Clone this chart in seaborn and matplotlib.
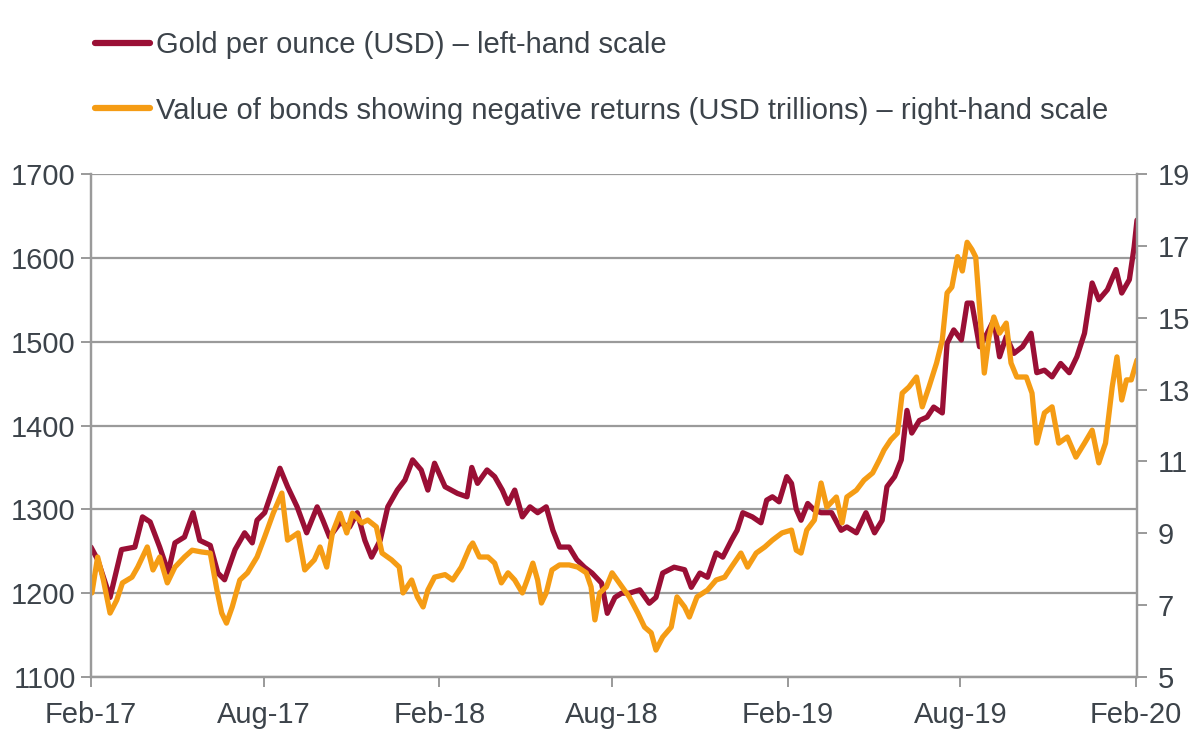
import pandas as pd
import seaborn as sns
import matplotlib
matplotlib.use("Agg")
import matplotlib.pyplot as plt
import matplotlib.dates as mdates
from matplotlib.lines import Line2D

start = pd.Timestamp("2017-02-01")

# gold per ounce (USD), day offsets from start
gold_day = [0, 7, 20, 32, 46, 54, 62, 72, 81, 88, 98, 107, 114, 125, 133, 140, 151, 161, 169, 174,
            182, 198, 206, 216, 226, 237, 243, 250, 261, 271, 279, 287, 294, 303, 311, 321, 329, 337,
            346, 353, 360, 371, 384, 394, 399, 405, 415, 423, 431, 437, 444, 452, 460, 468, 477, 484,
            491, 501, 509, 517, 525, 535, 541, 549, 556, 564, 575, 585, 592, 599, 611, 622, 629, 638,
            646, 655, 662, 671, 677, 683, 693, 702, 708, 714, 721, 729, 734, 739, 744, 751, 758, 765,
            776, 786, 792, 802, 812, 821, 829, 834, 842, 849, 855, 860, 868, 876, 883, 892, 897, 904,
            912, 918, 923, 931, 939, 946, 952, 959, 967, 976, 985, 991, 999, 1007, 1016, 1025, 1033,
            1041, 1049, 1056, 1065, 1074, 1080, 1088, 1093, 1096]
gold = [1255, 1240, 1195, 1252, 1255, 1291, 1285, 1255, 1225, 1260, 1267, 1296, 1263, 1257, 1224, 1216,
        1252, 1272, 1260, 1287, 1296, 1349, 1327, 1303, 1272, 1303, 1287, 1267, 1284, 1279, 1296, 1263,
        1243, 1263, 1303, 1323, 1335, 1359, 1347, 1323, 1355, 1327, 1319, 1315, 1350, 1331, 1347, 1339,
        1323, 1307, 1323, 1291, 1303, 1296, 1303, 1275, 1255, 1255, 1240, 1231, 1224, 1212, 1176, 1195,
        1200, 1200, 1204, 1188, 1195, 1224, 1231, 1228, 1207, 1224, 1219, 1248, 1243, 1263, 1275, 1296,
        1291, 1284, 1311, 1315, 1309, 1339, 1331, 1300, 1287, 1307, 1299, 1296, 1296, 1275, 1279, 1272,
        1296, 1272, 1287, 1327, 1339, 1359, 1418, 1391, 1406, 1410, 1422, 1415, 1498, 1514, 1502, 1546,
        1546, 1494, 1510, 1526, 1482, 1506, 1486, 1494, 1510, 1463, 1466, 1458, 1474, 1463, 1482, 1510,
        1570, 1550, 1562, 1586, 1558, 1574, 1613, 1645]

# value of bonds with negative returns (USD trillions), day offsets from start
bond_day = [1, 7, 13, 20, 27, 33, 43, 49, 59, 65, 72, 80, 88, 98, 106, 116, 125, 132, 137, 142, 148,
            156, 164, 174, 182, 191, 200, 206, 217, 224, 234, 240, 247, 253, 261, 268, 274, 284, 290,
            299, 305, 315, 323, 327, 336, 342, 348, 353, 360, 371, 379, 388, 397, 400, 407, 416, 423,
            430, 437, 444, 452, 457, 463, 468, 472, 477, 483, 491, 501, 510, 519, 524, 528, 533, 540,
            546, 554, 564, 573, 580, 587, 592, 599, 608, 614, 622, 627, 635, 646, 655, 664, 671, 681,
            688, 697, 706, 714, 724, 734, 739, 744, 750, 758, 765, 771, 781, 787, 792, 802, 810, 819,
            826, 831, 838, 845, 850, 857, 865, 871, 878, 886, 892, 897, 902, 908, 913, 918, 923, 927,
            931, 936, 941, 946, 952, 959, 964, 970, 980, 986, 991, 999, 1007, 1014, 1023, 1032, 1041,
            1049, 1056, 1063, 1070, 1075, 1080, 1085, 1090, 1096]
bonds = [7.34, 8.34, 7.70, 6.78, 7.14, 7.62, 7.78, 8.06, 8.62, 7.98, 8.34, 7.62, 8.06, 8.34, 8.53, 8.48,
         8.45, 7.42, 6.78, 6.50, 6.95, 7.70, 7.90, 8.34, 8.90, 9.56, 10.12, 8.81, 9.01, 7.98, 8.26, 8.62,
         8.06, 9.01, 9.56, 9.01, 9.56, 9.29, 9.37, 9.18, 8.45, 8.26, 8.06, 7.34, 7.70, 7.23, 6.95, 7.42,
         7.78, 7.85, 7.70, 8.06, 8.62, 8.73, 8.34, 8.34, 8.17, 7.62, 7.90, 7.70, 7.34, 7.70, 8.17, 7.70,
         7.06, 7.34, 7.98, 8.12, 8.12, 8.06, 7.90, 7.51, 6.59, 7.34, 7.51, 7.90, 7.60, 7.23, 6.78, 6.39,
         6.23, 5.75, 6.11, 6.39, 7.23, 6.95, 6.67, 7.23, 7.42, 7.70, 7.78, 8.06, 8.45, 8.06, 8.45, 8.62,
         8.81, 9.01, 9.09, 8.53, 8.45, 9.09, 9.37, 10.40, 9.73, 10.01, 9.29, 10.01, 10.20, 10.48, 10.68,
         11.04, 11.32, 11.60, 11.79, 12.90, 13.07, 13.35, 12.52, 13.07, 13.74, 14.38, 15.69, 15.85, 16.70,
         16.30, 17.10, 16.90, 16.69, 15.30, 13.46, 14.46, 15.02, 14.57, 14.85, 13.74, 13.35, 13.35, 12.90,
         11.51, 12.35, 12.52, 11.51, 11.68, 11.12, 11.51, 11.87, 10.96, 11.51, 13.07, 13.91, 12.71, 13.27,
         13.27, 13.82]

gold_label = "Gold per ounce (USD) \u2013 left-hand scale"
bond_label = "Value of bonds showing negative returns (USD trillions) \u2013 right-hand scale"
gold_color = "#9a0f35"
bond_color = "#f59c14"
text_color = "#3c434a"
grey = "#9a9a9a"

gold_df = pd.DataFrame({"date": start + pd.to_timedelta(gold_day, unit="D"), "value": gold})
bond_df = pd.DataFrame({"date": start + pd.to_timedelta(bond_day, unit="D"), "value": bonds})

sns.set_style("white")
plt.rcParams["font.family"] = ["Liberation Sans", "DejaVu Sans"]

fig = plt.figure(figsize=(12, 7.32), dpi=100)
ax = fig.add_axes([0.0758, 0.0751, 0.8717, 0.6872])
ax2 = ax.twinx()

sns.lineplot(data=gold_df, x="date", y="value", ax=ax, color=gold_color, lw=3.8)
sns.lineplot(data=bond_df, x="date", y="value", ax=ax2, color=bond_color, lw=3.8)

ax.set_xlim(start, start + pd.Timedelta(days=1096))
ax.set_ylim(1100, 1700)
ax.set_yticks(range(1100, 1701, 100))
ax2.set_ylim(5, 19)
ax2.set_yticks(range(5, 20, 2))

ax.xaxis.set_major_locator(mdates.MonthLocator(bymonth=[2, 8]))
ax.xaxis.set_major_formatter(mdates.DateFormatter("%b-%y"))

ax.grid(axis="y", color=grey, lw=1.6)
ax.set_axisbelow(True)
ax2.grid(False)
for a in (ax, ax2):
    a.set_xlabel("")
    a.set_ylabel("")
    a.spines["top"].set_visible(False)
    for s in ("left", "right", "bottom"):
        a.spines[s].set_color(grey)
        a.spines[s].set_linewidth(1.6)
ax.tick_params(axis="both", colors=grey, labelcolor=text_color, labelsize=21,
               length=7, width=1.4, direction="out")
ax.tick_params(axis="y", left=True, pad=4)
ax.tick_params(axis="x", bottom=True, pad=10)
ax2.tick_params(axis="y", right=True, colors=grey, labelcolor=text_color, labelsize=21,
                length=7, width=1.4, direction="out", pad=8)

handles = [Line2D([], [], color=gold_color, lw=4.5), Line2D([], [], color=bond_color, lw=4.5)]
fig.legend(handles, [gold_label, bond_label], loc="upper left", bbox_to_anchor=(0.079, 0.957),
           frameon=False, fontsize=21, labelcolor=text_color, handlelength=1.9,
           handletextpad=0.2, labelspacing=1.27, borderpad=0, borderaxespad=0)

fig.savefig("out.png", dpi=100, facecolor="white")
